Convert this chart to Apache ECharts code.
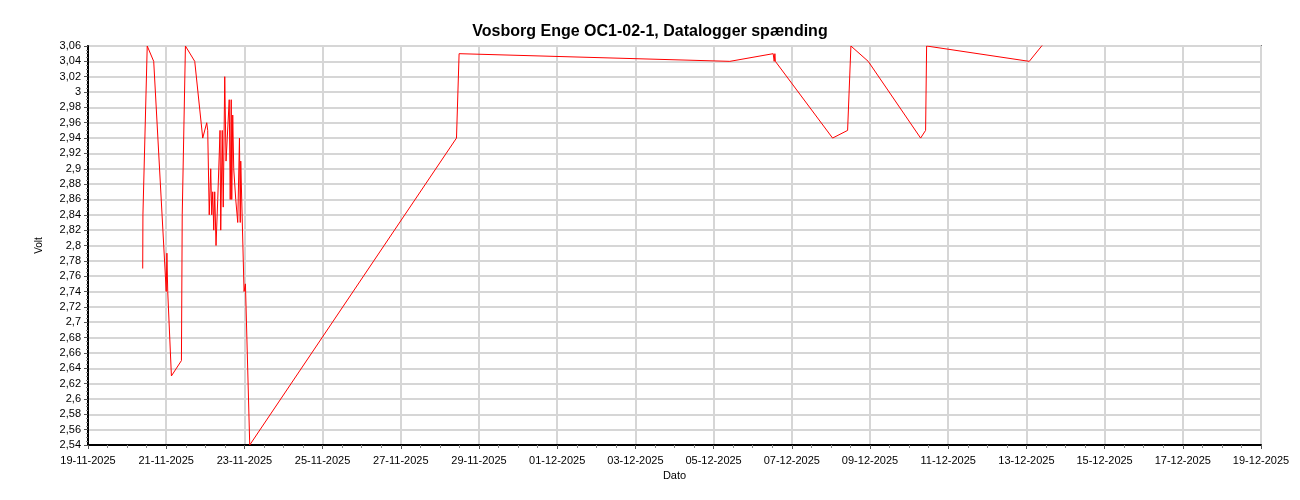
<!DOCTYPE html>
<html>
<head>
<meta charset="utf-8">
<script src="https://cdn.jsdelivr.net/npm/echarts@6/dist/echarts.min.js"></script>
<style>
html,body{margin:0;padding:0;background:#fff;}
#chart{width:1300px;height:500px;}
</style>
</head>
<body>
<div id="chart"></div>
<script>
const chartTitle = 'Vosborg Enge OC1-02-1, Datalogger spænding';
const xAxisName = 'Dato';
const yAxisName = 'Volt';
const axisStart = '2025-11-19 00:00';
const axisEnd = '2025-12-19 00:00';

const timestamps = [
  '2025-11-20 09:35','2025-11-20 09:43','2025-11-20 12:21','2025-11-20 16:20',
  '2025-11-21 00:01','2025-11-21 00:26','2025-11-21 00:56','2025-11-21 03:12',
  '2025-11-21 09:21','2025-11-21 09:50','2025-11-21 11:48','2025-11-21 17:31',
  '2025-11-21 22:25','2025-11-22 00:53','2025-11-22 01:29','2025-11-22 02:25',
  '2025-11-22 03:20','2025-11-22 03:57','2025-11-22 04:34','2025-11-22 05:11',
  '2025-11-22 05:47','2025-11-22 06:35','2025-11-22 07:38','2025-11-22 09:03',
  '2025-11-22 09:28','2025-11-22 10:24','2025-11-22 11:01','2025-11-22 11:56',
  '2025-11-22 12:44','2025-11-22 13:28','2025-11-22 14:41','2025-11-22 15:18',
  '2025-11-22 15:55','2025-11-22 16:14','2025-11-22 16:50','2025-11-22 17:27',
  '2025-11-22 18:41','2025-11-22 19:55','2025-11-22 20:58','2025-11-22 21:27',
  '2025-11-22 21:45','2025-11-22 23:47','2025-11-23 00:38','2025-11-23 03:17',
  '2025-11-28 10:11','2025-11-28 11:47','2025-12-05 09:59','2025-12-06 12:34',
  '2025-12-06 13:11','2025-12-06 13:37','2025-12-06 13:55','2025-12-08 01:02',
  '2025-12-08 10:15','2025-12-08 12:17','2025-12-08 22:54','2025-12-10 07:04',
  '2025-12-10 10:08','2025-12-10 10:45','2025-12-13 01:45','2025-12-13 17:00'
];
const volts = [
  2.77, 2.84, 3.06, 3.04,
  2.74, 2.79, 2.74, 2.63,
  2.65, 2.84, 3.06, 3.04,
  2.94, 2.96, 2.95, 2.84,
  2.90, 2.84, 2.87, 2.82,
  2.87, 2.80, 2.86, 2.95,
  2.82, 2.95, 2.85, 3.02,
  2.91, 2.94, 2.99, 2.86,
  2.99, 2.86, 2.97, 2.90,
  2.86, 2.83, 2.94, 2.83,
  2.91, 2.74, 2.75, 2.54,
  2.94, 3.05, 3.04, 3.05,
  3.04, 3.05, 3.04, 2.94,
  2.95, 3.06, 3.04, 2.94,
  2.95, 3.06, 3.04, 3.08
];

function parseUTC(s) {
  const [d, t] = s.split(' ');
  const [Y, M, D] = d.split('-').map(Number);
  const [h, m] = t.split(':').map(Number);
  return Date.UTC(Y, M - 1, D, h, m);
}
const DAY = 86400000;
const base = parseUTC(axisStart);
const span = (parseUTC(axisEnd) - base) / DAY;
const seriesData = timestamps.map((t, i) => [(parseUTC(t) - base) / DAY, volts[i]]);

function pad(n) { return n < 10 ? '0' + n : '' + n; }
function fmtDate(v) {
  const d = new Date(base + Math.round(v * DAY));
  return pad(d.getUTCDate()) + '-' + pad(d.getUTCMonth() + 1) + '-' + d.getUTCFullYear();
}
function fmtVolt(v) {
  return String(parseFloat(v.toFixed(2))).replace('.', ',');
}

const font = 'Liberation Sans, Arial, sans-serif';
const chart = echarts.init(document.getElementById('chart'), null, {renderer: 'canvas'});
chart.setOption({
  animation: false,
  backgroundColor: '#ffffff',
  title: {
    text: chartTitle,
    left: 'center',
    top: 19,
    textStyle: {fontFamily: font, fontSize: 16, fontWeight: 'bold', color: '#000'}
  },
  grid: {
    left: 88, right: 39, top: 46, bottom: 55,
    show: true, borderColor: '#7a7a7a', borderWidth: 2, backgroundColor: 'transparent'
  },
  xAxis: {
    type: 'value',
    min: 0, max: span, interval: 2,
    name: xAxisName, nameLocation: 'middle', nameGap: 23,
    nameTextStyle: {fontFamily: font, fontSize: 11, color: '#000'},
    axisLine: {show: true, lineStyle: {color: '#000', width: 2}},
    axisTick: {show: true, length: 4, lineStyle: {color: '#555'}},
    minorTick: {show: true, splitNumber: 4, length: 3, lineStyle: {color: '#888'}},
    axisLabel: {fontFamily: font, fontSize: 11, color: '#000', margin: 10, formatter: fmtDate},
    splitLine: {show: true, lineStyle: {color: '#d6d6d6', width: 2}}
  },
  yAxis: {
    type: 'value',
    min: 2.54, max: 3.06, interval: 0.02,
    name: yAxisName, nameLocation: 'middle', nameGap: 44, nameRotate: 90,
    nameTextStyle: {fontFamily: font, fontSize: 10, color: '#000'},
    axisLine: {show: true, lineStyle: {color: '#000', width: 2}},
    axisTick: {show: true, length: 4, lineStyle: {color: '#555'}},
    minorTick: {show: true, splitNumber: 4, length: 2, lineStyle: {color: '#888'}},
    axisLabel: {fontFamily: font, fontSize: 11, color: '#000', margin: 7, formatter: fmtVolt},
    splitLine: {show: true, lineStyle: {color: '#d6d6d6', width: 2}}
  },
  series: [{
    type: 'line',
    data: seriesData,
    showSymbol: false,
    symbol: 'none',
    clip: true,
    lineStyle: {color: '#ff0000', width: 1},
    itemStyle: {color: '#ff0000'}
  }]
});
</script>
</body>
</html>
